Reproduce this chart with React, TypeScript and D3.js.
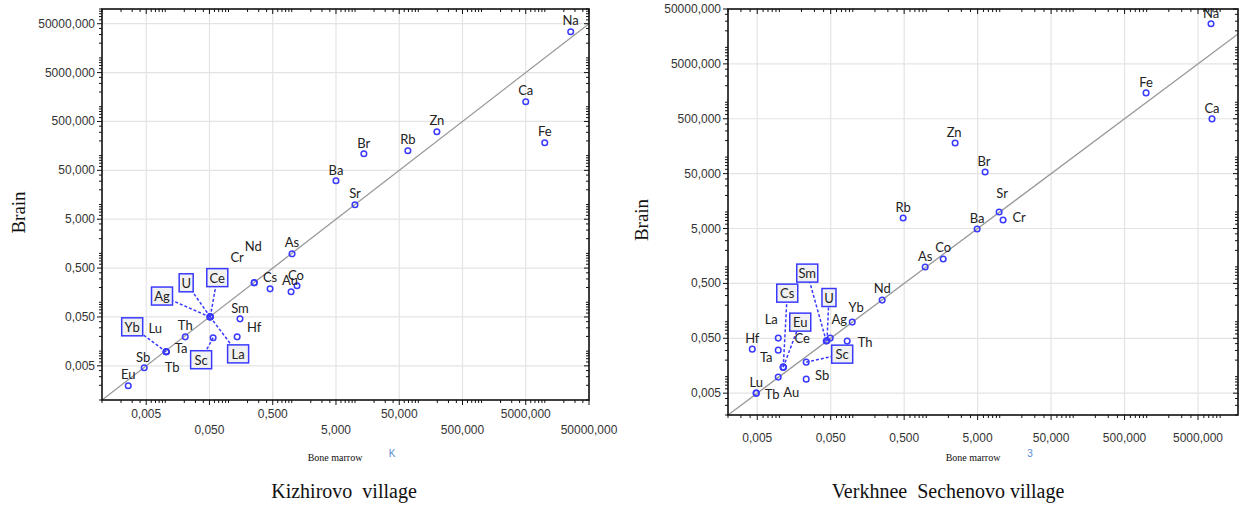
import React from "react";
import * as d3 from "d3";

// ---------- DATA ----------
const TICK_VALUES = [0.005, 0.05, 0.5, 5, 50, 500, 5000, 50000];

// Kizhirovo village
const KIZ_ELEMENTS = ["Na","Ca","Fe","Zn","Rb","Br","Ba","Sr","As","Cs","Cr","Nd","Co","Au","Sm","Hf","Th","Sc","U","Ce","Ag","La","Yb","Lu","Ta","Tb","Sb","Eu"];
const KIZ_MARROW = [25700,5000,9980,197,68.5,13.8,5.0,9.98,1.01,0.454,0.254,0.256,1.21,0.975,0.152,0.137,0.0207,0.0571,0.0513,0.0515,0.051,0.0512,0.01035,0.01035,0.01035,0.01035,0.00465,0.0026];
const KIZ_BRAIN = [34300,1268,183,308,126,109,30.6,9.88,0.98,0.188,0.25,0.252,0.217,0.164,0.0458,0.0196,0.0196,0.0188,0.0504,0.0508,0.0498,0.0502,0.00968,0.00968,0.00968,0.00968,0.00456,0.00195];

// Verkhnee Sechenovo village
const VS_ELEMENTS = ["Na","Fe","Ca","Zn","Br","Rb","Sr","Cr","Ba","Co","As","Nd","Yb","Ag","U","Sm","Th","Sc","Sb","Eu","Cs","Ce","La","Ta","Hf","Lu","Tb","Au"];
const VS_MARROW = [7510,981,7750,2.47,6.32,0.484,9.81,11.1,4.92,1.7,0.966,0.251,0.0982,0.0492,0.0445,0.0435,0.0838,0.0232,0.0232,0.0113,0.0113,0.0113,0.00966,0.00966,0.00428,0.00484,0.00484,0.00966];
const VS_BRAIN = [26900,1480,497,181,53.7,7.78,10.0,7.15,4.9,1.39,0.993,0.248,0.0986,0.0504,0.0455,0.0444,0.0444,0.01836,0.009,0.0149,0.0149,0.0149,0.0504,0.0304,0.0317,0.005,0.005,0.0098];

// ---------- ANNOTATION LAYOUT (label offsets from point, px) ----------
type Off = [number, number];
const KIZ_LABEL_OFF: Record<string, Off> = {
  Na:[0,-12],Ca:[0,-12],Fe:[0,-12],Zn:[0,-12],Rb:[0,-12],Br:[0,-11],Ba:[0,-11],Sr:[0,-12],
  As:[0,-12],Cs:[0,-12],Cr:[-17,-26],Nd:[-1,-37],Co:[-1,-11],Au:[-1,-12],Sm:[0,-11],Hf:[17,-10],
  Th:[0,-12],Lu:[-11,-24],Ta:[15,-4],Tb:[6,15],Sb:[-1,-11],Eu:[0,-12],
};
const KIZ_BOX_OFF: Record<string, Off> = {
  U:[-24,-34],Ce:[7,-39],Ag:[-48,-21],La:[28,37],Yb:[-34,-25],Sc:[-12,22],
};
const VS_LABEL_OFF: Record<string, Off> = {
  Na:[0,-11],Fe:[0,-11],Ca:[0,-11],Zn:[-1,-11],Br:[-1,-11],Rb:[0,-11],Sr:[3,-19],Cr:[16,-3],
  Ba:[0,-11],Co:[0,-12],As:[0,-11],Nd:[0,-12],Yb:[4,-15],Ag:[9,-19],Th:[18,1],Sb:[16,-4],
  Ce:[19,-29],La:[-7,-19],Ta:[-12,7],Hf:[0,-11],Lu:[0,-11],Tb:[16,1],Au:[13,15],
};
const VS_BOX_OFF: Record<string, Off> = {
  Sm:[-19,-68],U:[2,-43],Cs:[4,-74],Eu:[17,-45],Sc:[36,-8],
};

const BLUE = "#3a3aff";
const fmt = (v: number) => d3.format(".3f")(v).replace(".", ",");

type PanelProps = {
  names: string[]; xs: number[]; ys: number[];
  labelOff: Record<string, Off>; boxOff: Record<string, Off>;
  xDomain: [number, number]; yDomain: [number, number];
  left: number; right: number; top: number; bottom: number;
  twoRowX: boolean;
  yTitleX: number; xTitleX: number; mark: string; title: string; titleX: number;
};

function minorTicks(domain: [number, number]) {
  const out: number[] = [];
  for (let e = -4; e <= 6; e++) {
    for (let k = 1; k <= 9; k++) {
      if (k === 5) continue;
      const v = k * Math.pow(10, e);
      if (v >= domain[0] && v <= domain[1]) out.push(v);
    }
  }
  return out;
}

const LABEL_FONT = "Lato, 'Open Sans', sans-serif";

function Panel(p: PanelProps) {
  const x = d3.scaleLog().domain(p.xDomain).range([p.left, p.right]);
  const y = d3.scaleLog().domain(p.yDomain).range([p.bottom, p.top]);
  const xt = TICK_VALUES.filter(v => v >= p.xDomain[0] && v <= p.xDomain[1] * 1.001);
  const yt = TICK_VALUES.filter(v => v >= p.yDomain[0] && v <= p.yDomain[1] * 1.001);
  const xm = minorTicks(p.xDomain);
  const ym = minorTicks(p.yDomain);
  const lo = Math.max(p.xDomain[0], p.yDomain[0]);
  const hi = Math.min(p.xDomain[1], p.yDomain[1]);
  const pts = p.names.map((n, i) => ({ n, cx: x(p.xs[i]), cy: y(p.ys[i]) }));
  const clipId = "clip" + p.left;
  return (
    <g>
      <defs>
        <clipPath id={clipId}>
          <rect x={p.left} y={p.top} width={p.right - p.left} height={p.bottom - p.top} />
        </clipPath>
      </defs>
      <rect x={p.left} y={p.top} width={p.right - p.left} height={p.bottom - p.top} fill="#fff" />
      {/* grid */}
      {xt.map(v => (
        <line key={"gx" + v} x1={x(v)} x2={x(v)} y1={p.top} y2={p.bottom} stroke="#e4e4e4" strokeWidth={1.2} />
      ))}
      {yt.map(v => (
        <line key={"gy" + v} x1={p.left} x2={p.right} y1={y(v)} y2={y(v)} stroke="#e4e4e4" strokeWidth={1.2} />
      ))}
      {/* identity line */}
      <line clipPath={`url(#${clipId})`} x1={x(lo)} y1={y(lo)} x2={x(hi)} y2={y(hi)} stroke="#999" strokeWidth={1.3} />
      {/* leaders */}
      {pts.filter(d => p.boxOff[d.n]).map(d => (
        <line key={"ld" + d.n} x1={d.cx} y1={d.cy} x2={d.cx + p.boxOff[d.n][0]} y2={d.cy + p.boxOff[d.n][1]}
          stroke={BLUE} strokeWidth={1.5} strokeDasharray="3,2" />
      ))}
      {/* points */}
      {pts.map(d => (
        <circle key={"pt" + d.n} cx={d.cx} cy={d.cy} r={2.8} fill="none" stroke={BLUE} strokeWidth={1.5} />
      ))}
      {/* plain labels */}
      {pts.filter(d => p.labelOff[d.n]).map(d => (
        <text key={"lb" + d.n} x={d.cx + p.labelOff[d.n][0]} y={d.cy + p.labelOff[d.n][1]}
          textAnchor="middle" dominantBaseline="central" fontFamily={LABEL_FONT} fontSize={13} fill="#222">{d.n}</text>
      ))}
      {/* boxed labels */}
      {pts.filter(d => p.boxOff[d.n]).map(d => {
        const bx = d.cx + p.boxOff[d.n][0];
        const by = d.cy + p.boxOff[d.n][1];
        const w = d.n.length === 1 ? 14 : 21;
        return (
          <g key={"bx" + d.n}>
            <rect x={bx - w / 2} y={by - 9} width={w} height={18} fill="#f1f1f1" stroke={BLUE} strokeWidth={1.5} />
            <text x={bx} y={by} textAnchor="middle" dominantBaseline="central" fontFamily={LABEL_FONT} fontSize={13} fill="#222">{d.n}</text>
          </g>
        );
      })}
      {/* frame */}
      <rect x={p.left} y={p.top} width={p.right - p.left} height={p.bottom - p.top} fill="none" stroke="#111" strokeWidth={1.6} />
      {/* ticks */}
      {xm.map(v => (
        <g key={"xm" + v}>
          <line x1={x(v)} x2={x(v)} y1={p.bottom} y2={p.bottom + 3} stroke="#111" />
          <line x1={x(v)} x2={x(v)} y1={p.top} y2={p.top + 3} stroke="#111" />
        </g>
      ))}
      {xt.map(v => (
        <g key={"xM" + v}>
          <line x1={x(v)} x2={x(v)} y1={p.bottom} y2={p.bottom + 5} stroke="#111" />
          <line x1={x(v)} x2={x(v)} y1={p.top} y2={p.top + 5} stroke="#111" />
        </g>
      ))}
      {ym.map(v => (
        <g key={"ym" + v}>
          <line x1={p.left - 3} x2={p.left} y1={y(v)} y2={y(v)} stroke="#111" />
          <line x1={p.right - 3} x2={p.right} y1={y(v)} y2={y(v)} stroke="#111" />
        </g>
      ))}
      {yt.map(v => (
        <g key={"yM" + v}>
          <line x1={p.left - 5} x2={p.left} y1={y(v)} y2={y(v)} stroke="#111" />
          <line x1={p.right - 5} x2={p.right} y1={y(v)} y2={y(v)} stroke="#111" />
        </g>
      ))}
      {/* tick labels */}
      {yt.map(v => (
        <text key={"yl" + v} x={p.left - 7} y={y(v)} textAnchor="end" dominantBaseline="central"
          fontFamily="'Liberation Sans', Arial, sans-serif" fontSize={12} fill="#333">{fmt(v)}</text>
      ))}
      {xt.map((v, i) => (
        <text key={"xl" + v} x={x(v)} y={p.twoRowX ? (i % 2 === 0 ? p.bottom + 14 : p.bottom + 30) : p.bottom + 23}
          textAnchor="middle" dominantBaseline="central"
          fontFamily="'Liberation Sans', Arial, sans-serif" fontSize={12} fill="#333">{fmt(v)}</text>
      ))}
      {/* titles */}
      <text transform={`translate(${p.yTitleX},${(p.top + p.bottom) / 2 + 8}) rotate(-90)`} textAnchor="middle" dominantBaseline="central"
        fontFamily="'Liberation Serif', 'Times New Roman', serif" fontSize={19} fill="#111">Brain</text>
      <text x={p.xTitleX} y={457} textAnchor="middle" dominantBaseline="central"
        fontFamily="'Liberation Serif', 'Times New Roman', serif" fontSize={10} fill="#111">Bone marrow</text>
      <text x={p.xTitleX + 57} y={453} textAnchor="middle" dominantBaseline="central"
        fontFamily="'Liberation Sans', Arial, sans-serif" fontSize={10} fill="#5b8bd0">{p.mark}</text>
      <text x={p.titleX} y={491} textAnchor="middle" dominantBaseline="central" style={{ whiteSpace: "pre" }}
        fontFamily="'Liberation Serif', 'Times New Roman', serif" fontSize={20} fill="#111">{p.title}</text>
    </g>
  );
}

export default function App() {
  return (
    <svg width={1247} height={507} style={{ position: "absolute", left: 0, top: 0, background: "#fff" }}>
      <rect x={0} y={0} width={1247} height={507} fill="#fff" />
      <Panel names={KIZ_ELEMENTS} xs={KIZ_MARROW} ys={KIZ_BRAIN}
        labelOff={KIZ_LABEL_OFF} boxOff={KIZ_BOX_OFF}
        xDomain={[0.001, 50000]} yDomain={[0.001, 100000]}
        left={102} right={589} top={9} bottom={400} twoRowX={true}
        yTitleX={18} xTitleX={335} mark="K" title="Kizhirovo  village" titleX={344} />
      <Panel names={VS_ELEMENTS} xs={VS_MARROW} ys={VS_BRAIN}
        labelOff={VS_LABEL_OFF} boxOff={VS_BOX_OFF}
        xDomain={[0.002, 17500]} yDomain={[0.002, 50000]}
        left={728} right={1238} top={9} bottom={415} twoRowX={false}
        yTitleX={641} xTitleX={973} mark="3" title="Verkhnee  Sechenovo village" titleX={948} />
    </svg>
  );
}
